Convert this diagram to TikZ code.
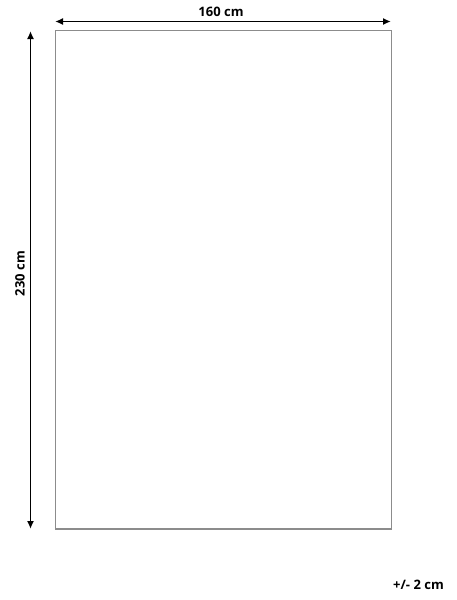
\documentclass[tikz,border=0pt]{standalone}
\usepackage{fontspec}
\setmainfont{Open Sans}
\usetikzlibrary{arrows.meta}
\begin{document}
\begin{tikzpicture}[x=1pt, y=-1pt, >={Latex[length=8pt,width=7pt]},
	dimline/.style={<->, line width=1.6pt, black},
	dimtext/.style={font=\bfseries\fontsize{13}{15}\selectfont, inner sep=0},
	outline/.style={draw=black!45, line width=1.3pt}]
				\useasboundingbox (0,0) rectangle (456,600);
				\coordinate (tl) at (55.5,30.5);
				\coordinate (br) at (391.5,529);
				\draw[outline] (tl) rectangle (br);
				\coordinate (w1) at (55,21.5);
				\coordinate (w2) at (391,21.5);
				\draw[dimline] (w1) -- (w2);
				\node[dimtext] (width) at (221,12) {160 cm};
				\coordinate (h1) at (30.5,31);
				\coordinate (h2) at (30.5,529);
				\draw[dimline] (h1) -- (h2);
				\node[dimtext, rotate=90] (height) at (20,273.5) {230 cm};
				\node[dimtext] (tol) at (418.5,585) {+/- 2 cm};
			\end{tikzpicture}
\end{document}
